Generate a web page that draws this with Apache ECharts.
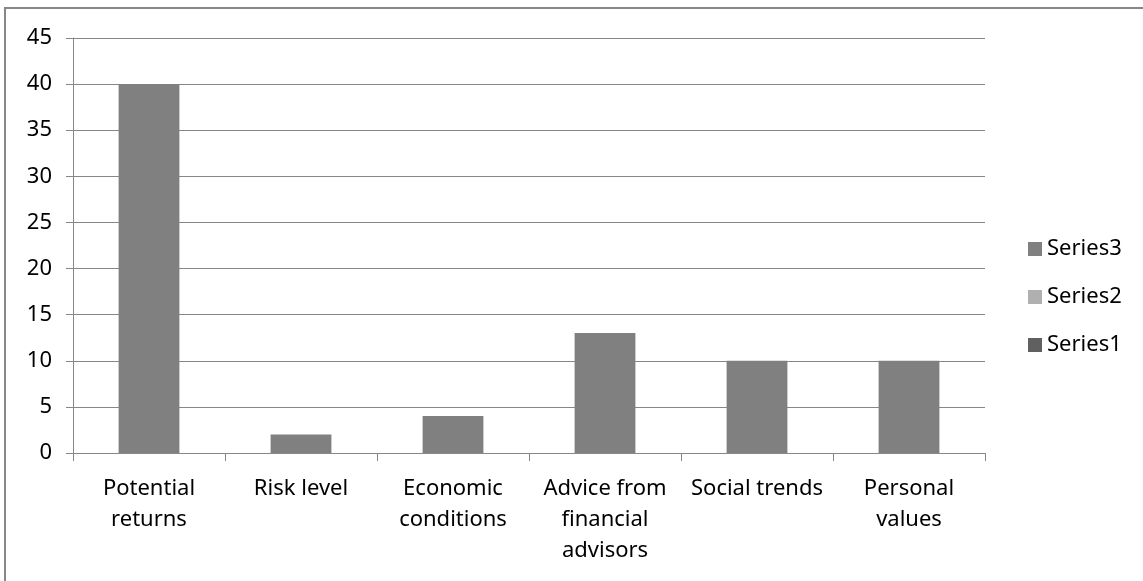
<!DOCTYPE html>
<html>
<head>
<meta charset="utf-8">
<style>
  html, body { margin: 0; padding: 0; background: #ffffff; }
  #chart { width: 1143px; height: 581px; }
</style>
<script src="https://cdn.jsdelivr.net/npm/echarts@6/dist/echarts.min.js"></script>
</head>
<body>
<div id="chart"></div>
<script>
// Factors considered when making investment decisions
const categories = [
  'Potential\nreturns',
  'Risk level',
  'Economic\nconditions',
  'Advice from\nfinancial\nadvisors',
  'Social trends',
  'Personal\nvalues'
];
const series1Values = [0, 0, 0, 0, 0, 0];
const series2Values = [0, 0, 0, 0, 0, 0];
const series3Values = [40, 2, 4, 13, 10, 10];
const legendOrder = ['Series3', 'Series2', 'Series1'];

const FONT = 'Noto Sans';
const TEXT = '#000000';
const LINE = '#878787';

const chart = echarts.init(document.getElementById('chart'), null, { renderer: 'canvas' });

function barSeries(name, data, color) {
  return {
    name: name,
    type: 'bar',
    stack: 'total',
    barWidth: '40%',
    data: data,
    itemStyle: { color: color },
    emphasis: { disabled: true }
  };
}

chart.setOption({
  animation: false,
  backgroundColor: '#ffffff',
  graphic: [{
    type: 'rect',
    shape: { x: 5, y: 8, width: 1300, height: 800 },
    style: { fill: 'none', stroke: '#878787', lineWidth: 2 },
    silent: true
  }],
  grid: { left: 73, right: 158, top: 38, bottom: 128, containLabel: false },
  legend: {
    data: legendOrder,
    orient: 'vertical',
    left: 1028,
    top: 238,
    padding: 0,
    itemWidth: 14,
    itemHeight: 14,
    itemGap: 26,
    icon: 'rect',
    textStyle: { fontFamily: FONT, fontSize: 22, color: TEXT }
  },
  xAxis: {
    type: 'category',
    data: categories,
    axisLine: { lineStyle: { color: LINE, width: 1 } },
    axisTick: { show: true, alignWithLabel: false, length: 8, lineStyle: { color: LINE } },
    axisLabel: {
      interval: 0,
      margin: 20,
      fontFamily: FONT,
      fontSize: 22,
      lineHeight: 31,
      color: TEXT,
      verticalAlign: 'top'
    }
  },
  yAxis: {
    type: 'value',
    min: 0,
    max: 45,
    interval: 5,
    axisLine: { show: true, lineStyle: { color: LINE, width: 1 } },
    axisTick: { show: true, length: 7, lineStyle: { color: LINE } },
    splitLine: { show: true, lineStyle: { color: LINE, width: 1 } },
    axisLabel: {
      margin: 21,
      fontFamily: FONT,
      fontSize: 22,
      color: TEXT
    }
  },
  series: [
    barSeries('Series1', series1Values, '#606060'),
    barSeries('Series2', series2Values, '#b0b0b0'),
    barSeries('Series3', series3Values, '#808080')
  ]
});
</script>
</body>
</html>
